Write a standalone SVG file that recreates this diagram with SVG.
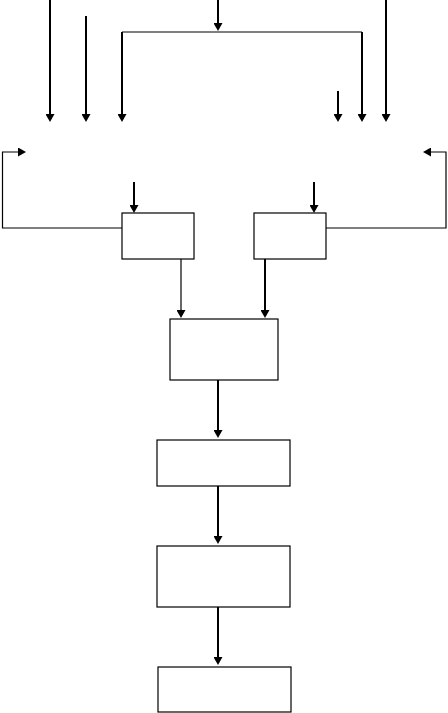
<svg xmlns="http://www.w3.org/2000/svg" width="448" height="713" viewBox="0 0 448 713">
<style>
.box{fill:#fff;stroke:#000;stroke-width:1.2}
.thick{fill:none;stroke:#000;stroke-width:2}
.thin{fill:none;stroke:#000;stroke-width:1.2}
</style>
<defs>
<marker id="ah" viewBox="0 0 8 9" refX="4" refY="4.5" markerWidth="8" markerHeight="9" markerUnits="userSpaceOnUse" orient="auto">
<path d="M0,0 L8,4.5 L0,9 z" fill="#000"/>
</marker>
</defs>
<rect width="448" height="713" fill="#fff"/>
<g id="connectors">
<line class="thick" x1="50" y1="0" x2="50" y2="118" marker-end="url(#ah)"/>
<line class="thick" x1="86" y1="16" x2="86" y2="118" marker-end="url(#ah)"/>
<line class="thick" x1="218" y1="0" x2="218" y2="27" marker-end="url(#ah)"/>
<polyline class="thin" points="122,32 362,32"/>
<line class="thick" x1="122" y1="32" x2="122" y2="118" marker-end="url(#ah)"/>
<line class="thick" x1="362" y1="32" x2="362" y2="118" marker-end="url(#ah)"/>
<line class="thick" x1="338" y1="91" x2="338" y2="118" marker-end="url(#ah)"/>
<line class="thick" x1="386" y1="0" x2="386" y2="118" marker-end="url(#ah)"/>
<polyline class="thin" points="122,228 2.5,228 2.5,152 22,152" marker-end="url(#ah)"/>
<polyline class="thin" points="326,228 446,228 446,152 427,152" marker-end="url(#ah)"/>
<line class="thick" x1="134" y1="182" x2="134" y2="209" marker-end="url(#ah)"/>
<line class="thick" x1="314" y1="182" x2="314" y2="209" marker-end="url(#ah)"/>
<line class="thin" x1="181" y1="259" x2="181" y2="314" marker-end="url(#ah)"/>
<line class="thick" x1="265" y1="259" x2="265" y2="314" marker-end="url(#ah)"/>
<line class="thick" x1="218" y1="380" x2="218" y2="434" marker-end="url(#ah)"/>
<line class="thick" x1="218" y1="486" x2="218" y2="540" marker-end="url(#ah)"/>
<line class="thick" x1="218" y1="607" x2="218" y2="661" marker-end="url(#ah)"/>
</g>
<g id="node-left"><rect class="box" x="122" y="213" width="72" height="46"/></g>
<g id="node-right"><rect class="box" x="254" y="213" width="72" height="46"/></g>
<g id="node-3"><rect class="box" x="170" y="319" width="108" height="61"/></g>
<g id="node-4"><rect class="box" x="157" y="440" width="133" height="46"/></g>
<g id="node-5"><rect class="box" x="157" y="546" width="133" height="61"/></g>
<g id="node-6"><rect class="box" x="158" y="667" width="133" height="45"/></g>
</svg>
